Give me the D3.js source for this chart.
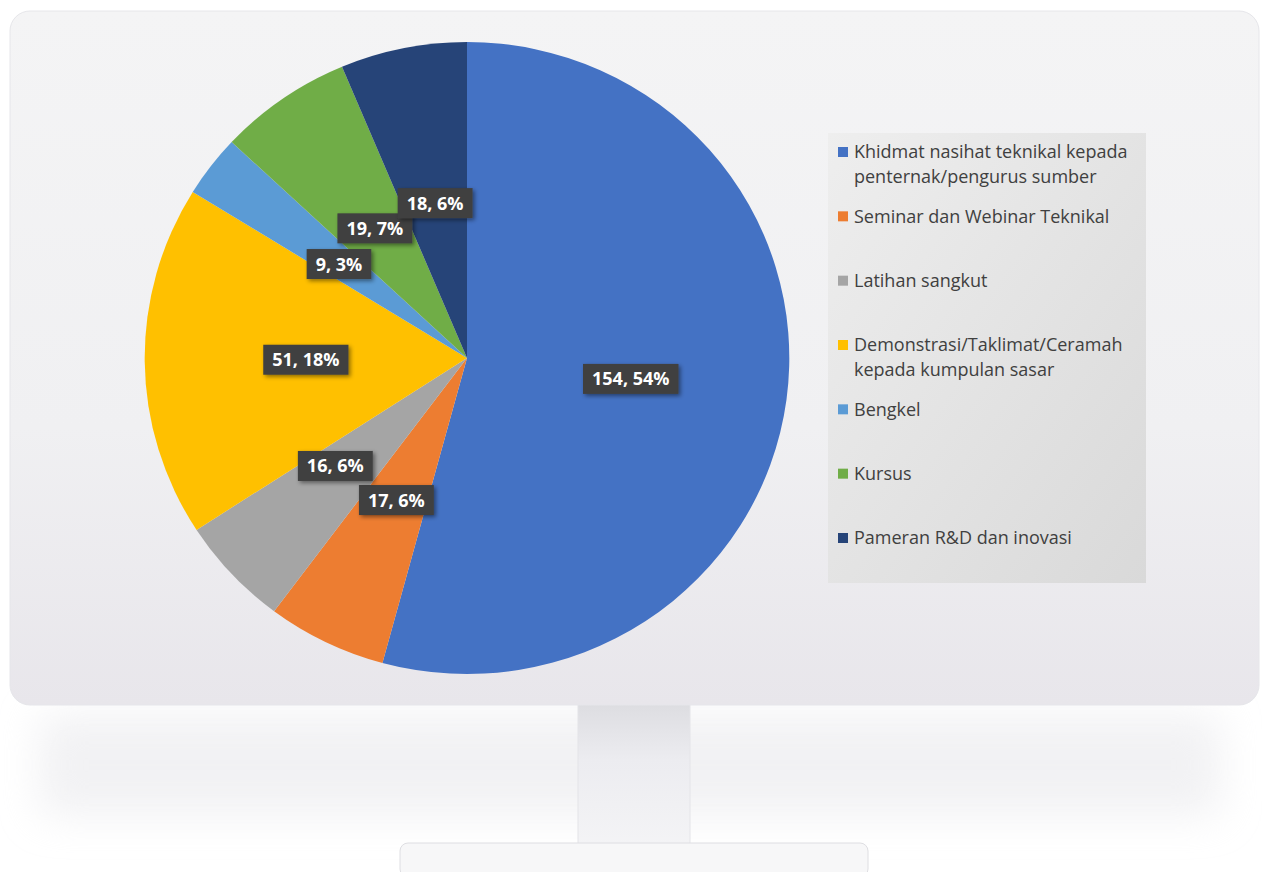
<!DOCTYPE html>
<html>
<head>
<meta charset="utf-8">
<script src="https://cdn.jsdelivr.net/npm/d3@7"></script>
<style>
  html, body { margin: 0; padding: 0; background: #ffffff; }
  svg { display: block; }
</style>
</head>
<body>
<div id="chart"></div>
<script>
// data
const categories = [
    "Khidmat nasihat teknikal kepada penternak/pengurus sumber",
    "Seminar dan Webinar Teknikal",
    "Latihan sangkut",
    "Demonstrasi/Taklimat/Ceramah kepada kumpulan sasar",
    "Bengkel",
    "Kursus",
    "Pameran R&D dan inovasi"
];
const legendLines = [
    ["Khidmat nasihat teknikal kepada", "penternak/pengurus sumber"],
    ["Seminar dan Webinar Teknikal"],
    ["Latihan sangkut"],
    ["Demonstrasi/Taklimat/Ceramah", "kepada kumpulan sasar"],
    ["Bengkel"],
    ["Kursus"],
    ["Pameran R&D dan inovasi"]
];
const values = [154, 17, 16, 51, 9, 19, 18];
const colors = ["#4472C4", "#ED7D31", "#A5A5A5", "#FFC000", "#5B9BD5", "#70AD47", "#264478"];

const W = 1262, H = 872;

const svg = d3.select("#chart")
    .append("svg")
    .attr("width", W)
    .attr("height", H);

const defs = svg.append("defs");

// blur for shadows
defs.append("filter").attr("id", "soft")
    .attr("x", "-20%").attr("y", "-50%").attr("width", "140%").attr("height", "200%")
    .append("feGaussianBlur").attr("stdDeviation", 20);

const lblShadow = defs.append("filter").attr("id", "lblShadow")
    .attr("x", "-20%").attr("y", "-30%").attr("width", "150%").attr("height", "170%");
lblShadow.append("feDropShadow")
    .attr("dx", 2).attr("dy", 2).attr("stdDeviation", 2)
    .attr("flood-color", "#000").attr("flood-opacity", 0.45);

const legGrad = defs.append("linearGradient").attr("id", "legGrad")
    .attr("x1", "0").attr("y1", "0").attr("x2", "1").attr("y2", "1");
legGrad.append("stop").attr("offset", "0%").attr("stop-color", "#eeeeee");
legGrad.append("stop").attr("offset", "100%").attr("stop-color", "#d9d9d9");

const screenGrad = defs.append("linearGradient").attr("id", "screenGrad")
    .attr("x1", "0").attr("y1", "0").attr("x2", "0").attr("y2", "1");
screenGrad.append("stop").attr("offset", "0%").attr("stop-color", "#f4f4f5");
screenGrad.append("stop").attr("offset", "60%").attr("stop-color", "#f0f0f2");
screenGrad.append("stop").attr("offset", "100%").attr("stop-color", "#e8e6eb");

const neckGrad = defs.append("linearGradient").attr("id", "neckGrad")
    .attr("x1", "0").attr("y1", "0").attr("x2", "0").attr("y2", "1");
neckGrad.append("stop").attr("offset", "0%").attr("stop-color", "#dcdce0");
neckGrad.append("stop").attr("offset", "40%").attr("stop-color", "#ececf0");
neckGrad.append("stop").attr("offset", "100%").attr("stop-color", "#f4f4f6");

// monitor: shadow under the screen
svg.append("rect")
    .attr("x", 40).attr("y", 715).attr("width", 1180).attr("height", 100)
    .attr("fill", "#e4e4e8").attr("opacity", 0.5)
    .attr("filter", "url(#soft)");

// stand neck
svg.append("rect")
    .attr("x", 578).attr("y", 700).attr("width", 112).attr("height", 150)
    .attr("fill", "url(#neckGrad)")
    .attr("stroke", "#e4e4e8");

// stand base
svg.append("rect")
    .attr("x", 400).attr("y", 843).attr("width", 468).attr("height", 34)
    .attr("rx", 8)
    .attr("fill", "#f7f7f8")
    .attr("stroke", "#dedee2");

// screen
svg.append("rect")
    .attr("x", 10).attr("y", 11).attr("width", 1249).attr("height", 694)
    .attr("rx", 20)
    .attr("fill", "url(#screenGrad)")
    .attr("stroke", "#e6e6ea");

// pie
const cx = 467, cy = 358, r = 316;

const pie = d3.pie().sort(null).value(d => d);
const arcs = pie(values);
const arc = d3.arc().innerRadius(0).outerRadius(r);

const g = svg.append("g")
    .attr("transform", `translate(${cx},${cy}) scale(1.02,1)`);

g.selectAll(".slice")
    .data(arcs)
    .enter()
    .append("path")
    .attr("class", "slice")
    .attr("d", arc)
    .attr("fill", (d, i) => colors[i]);

// data labels
const total = d3.sum(values);
const nudge = [[4, 0], [0, 0], [-14, 0], [0, 0], [0, 2], [0, 0], [0, 0]];

const labels = svg.append("g")
    .attr("transform", `translate(${cx},${cy})`);

arcs.forEach((d, i) => {
    const c = arc.centroid(d);
    const lx = c[0] * 1.02 + nudge[i][0];
    const ly = c[1] + nudge[i][1];
    const lg = labels.append("g").attr("transform", `translate(${lx},${ly})`);
    const rect = lg.append("rect").attr("fill", "#404040").attr("filter", "url(#lblShadow)");
    const t = lg.append("text")
        .attr("text-anchor", "middle")
        .attr("dy", "0.36em")
        .style("font-family", "'Open Sans', sans-serif")
        .style("font-size", "18px")
        .style("font-weight", "bold")
        .style("fill", "#ffffff")
        .text(`${values[i]}, ${Math.round(values[i] / total * 100)}%`);
    const bb = t.node().getBBox();
    rect.attr("x", -bb.width / 2 - 9).attr("y", -15)
        .attr("width", bb.width + 18).attr("height", 30);
});

// legend
const legend = svg.append("g");
legend.append("rect")
    .attr("x", 828).attr("y", 133).attr("width", 318).attr("height", 450)
    .attr("fill", "url(#legGrad)");

const legendY = d3.scalePoint()
    .domain(categories)
    .range([152, 538]);

categories.forEach((c, i) => {
    const y = legendY(c);
    const item = legend.append("g").attr("transform", `translate(838,${y})`);
    item.append("rect")
        .attr("x", 0).attr("y", -5).attr("width", 10).attr("height", 10)
        .attr("fill", colors[i]);
    legendLines[i].forEach((line, j) => {
        item.append("text")
            .attr("x", 16).attr("y", j * 25)
            .attr("dy", "0.35em")
            .style("font-family", "'Open Sans', sans-serif")
            .style("font-size", "18px")
            .style("fill", "#404040")
            .text(line);
    });
});
</script>
</body>
</html>
